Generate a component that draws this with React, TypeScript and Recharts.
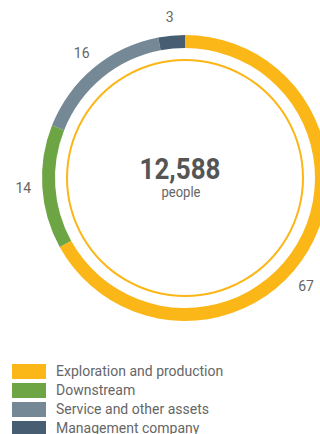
import React from "react";
import { PieChart, Pie, Cell } from "recharts";

const segments = [
  "Exploration and production",
  "Downstream",
  "Service and other assets",
  "Management company",
];
const shares = [67, 14, 16, 3];
const colors = ["#FBB617", "#6DA544", "#758896", "#475E72"];
const total = "12,588";
const unit = "people";

const data = segments.map((name, i) => ({ name, value: shares[i] }));
const ring = [{ name: "ring", value: 1 }];

const W = 320;
const RAD = Math.PI / 180;

const renderLabel = ({ cx, cy, midAngle, outerRadius, value }: any) => {
  const r = outerRadius + 19;
  let x = cx + r * Math.cos(-midAngle * RAD);
  let y = cy + r * Math.sin(-midAngle * RAD);
  const maxX = W - 14;
  if (x > maxX) {
    // slide along the circle so the label stays inside the canvas
    const a = Math.acos((maxX - cx) / r);
    x = maxX;
    y = cy + (y >= cy ? 1 : -1) * r * Math.sin(a);
  }
  return (
    <text
      x={x}
      y={y}
      fill="#666"
      fontSize={14}
      fontFamily="Roboto, sans-serif"
      textAnchor="middle"
      dominantBaseline="central"
    >
      {value}
    </text>
  );
};

export default function App() {
  return (
    <div
      style={{
        position: "absolute",
        left: 0,
        top: 0,
        width: W,
        height: 434,
        overflow: "hidden",
        background: "#fff",
        fontFamily: "Roboto, sans-serif",
      }}
    >
      <PieChart
        width={W}
        height={340}
        margin={{ top: 0, right: 0, bottom: 0, left: 0 }}
      >
        <Pie
          data={ring}
          dataKey="value"
          cx={185}
          cy={178}
          innerRadius={117}
          outerRadius={119}
          stroke="none"
          fill="#FBB617"
          isAnimationActive={false}
        />
        <Pie
          data={data}
          dataKey="value"
          cx={185}
          cy={178}
          innerRadius={130}
          outerRadius={143}
          startAngle={90}
          endAngle={-270}
          stroke="none"
          label={renderLabel}
          labelLine={false}
          isAnimationActive={false}
        >
          {data.map((d, i) => (
            <Cell key={d.name} fill={colors[i]} />
          ))}
        </Pie>
        <text
          x={180}
          y={179}
          textAnchor="middle"
          fontSize={30}
          fontWeight={700}
          fill="#555"
          textLength={81}
          lengthAdjust="spacingAndGlyphs"
        >
          {total}
        </text>
        <text
          x={181}
          y={197}
          textAnchor="middle"
          fontSize={14}
          fill="#666"
          textLength={39}
          lengthAdjust="spacingAndGlyphs"
        >
          {unit}
        </text>
      </PieChart>
      <div style={{ position: "absolute", left: 12, top: 362 }}>
        {segments.map((name, i) => (
          <div
            key={name}
            style={{ display: "flex", alignItems: "center", height: 19 }}
          >
            <div
              style={{
                width: 34,
                height: 15,
                background: colors[i],
                marginRight: 10,
              }}
            />
            <span
              style={{
                fontSize: 14,
                lineHeight: "15px",
                color: "#666",
                whiteSpace: "nowrap",
              }}
            >
              {name}
            </span>
          </div>
        ))}
      </div>
    </div>
  );
}
